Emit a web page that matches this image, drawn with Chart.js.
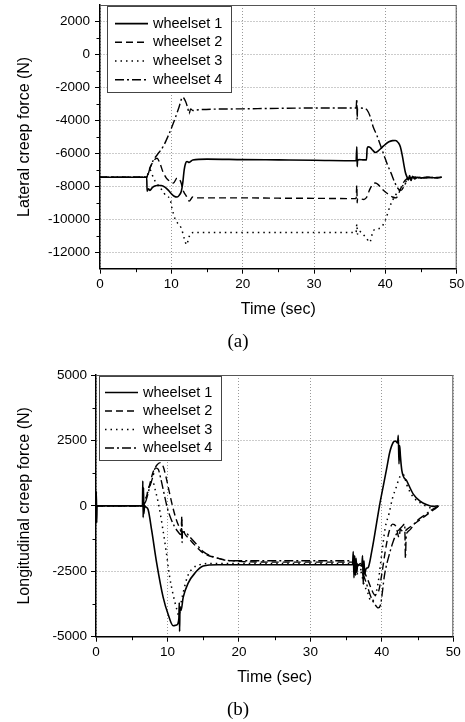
<!DOCTYPE html>
<html>
<head>
<meta charset="utf-8">
<script src="https://cdn.jsdelivr.net/npm/chart.js@4.4.0/dist/chart.umd.min.js"></script>
<style>
  body { margin: 0; background: #fff; }
  canvas { display: block; }
</style>
</head>
<body>
<canvas id="lateral" width="465" height="360"></canvas>
<canvas id="longitudinal" width="465" height="362"></canvas>
<script>
const seriesNames = ['wheelset 1', 'wheelset 2', 'wheelset 3', 'wheelset 4'];

const timeTicks = [0, 10, 20, 30, 40, 50];
const timeMinor = [5, 15, 25, 35, 45];
const latTicks = [2000, 0, -2000, -4000, -6000, -8000, -10000, -12000];
const latMinor = [1000, -1000, -3000, -5000, -7000, -9000, -11000];
const lonTicks = [5000, 2500, 0, -2500, -5000];
const lonMinor = [3750, 1250, -1250, -3750];

// (a) lateral creep force, N
const latT1 = [0, 6.55, 6.6, 6.8, 7.0, 7.3, 7.6, 8.0, 8.6, 9.1, 9.6, 10.0, 10.4, 10.8, 11.1, 11.4, 11.6, 11.8, 12.0, 12.2, 12.5, 13.0, 15, 20, 25, 30, 35.9, 36.0, 36.05, 36.1, 36.3, 37.0, 37.35, 37.45, 37.6, 37.9, 38.2, 38.6, 39.0, 39.5, 40.0, 40.5, 41.0, 41.4, 41.8, 42.1, 42.4, 42.6, 42.8, 43.0, 43.2, 43.4, 43.6, 43.8, 44.1, 44.5, 45, 46, 47, 47.9];
const latF1 = [-7450, -7450, -8300, -8150, -8250, -8100, -8000, -7950, -7950, -8050, -8250, -8450, -8600, -8650, -8550, -8300, -7800, -7000, -6600, -6500, -6550, -6400, -6350, -6380, -6400, -6420, -6450, -5600, -6800, -6450, -6380, -6400, -6400, -5700, -5600, -5650, -5800, -5950, -5850, -5650, -5450, -5300, -5230, -5220, -5350, -5600, -6200, -6700, -7150, -7400, -7600, -7350, -7650, -7400, -7550, -7450, -7500, -7450, -7480, -7450];
const latT2 = [0, 6.55, 6.8, 7.2, 7.6, 8.0, 8.4, 8.8, 9.3, 9.8, 10.3, 10.8, 11.3, 11.7, 12.1, 12.5, 13.0, 13.5, 15, 20, 25, 30, 35.9, 36.0, 36.05, 36.1, 36.3, 37.0, 37.4, 37.8, 38.2, 38.6, 39.0, 39.5, 40.0, 40.5, 41.0, 41.5, 42.0, 42.5, 43.0, 44, 45, 46, 47, 47.9];
const latF2 = [-7450, -7450, -7100, -6700, -6400, -6300, -6600, -7100, -7500, -7700, -7800, -7500, -7700, -8300, -8600, -8900, -8650, -8700, -8700, -8700, -8720, -8730, -8750, -7950, -9000, -8750, -8750, -8800, -8650, -8200, -7900, -7800, -7900, -8150, -8350, -8500, -8650, -8700, -8300, -7800, -7550, -7450, -7500, -7450, -7480, -7450];
const latT3 = [0, 6.55, 7.0, 7.5, 7.9, 8.3, 8.8, 9.3, 9.8, 10.1, 10.5, 10.9, 11.4, 11.8, 12.15, 12.4, 12.7, 13.2, 15, 20, 25, 30, 35.9, 36.0, 36.1, 36.3, 36.8, 37.3, 37.8, 38.3, 38.8, 39.5, 40.0, 40.7, 41.4, 42.3, 43.0, 44, 45, 46, 47, 47.9];
const latF3 = [-7450, -7450, -7000, -7500, -7800, -8000, -8300, -8600, -8750, -9350, -9950, -10250, -10550, -11150, -11550, -11200, -10850, -10800, -10800, -10800, -10800, -10800, -10800, -10300, -10900, -10700, -10900, -11100, -11400, -10700, -10600, -10450, -10050, -9150, -8550, -8050, -7650, -7450, -7500, -7450, -7480, -7450];
const latT4 = [0, 6.55, 7.0, 7.5, 8.0, 8.9, 9.6, 10.3, 11.0, 11.6, 12.0, 12.3, 12.5, 12.7, 13.0, 14, 20, 25, 30, 35.9, 36.0, 36.05, 36.1, 36.3, 37.0, 37.4, 37.9, 38.3, 38.8, 39.3, 39.8, 40.3, 40.8, 41.3, 41.8, 42.2, 42.6, 43.0, 43.5, 44.5, 46, 47.9];
const latF4 = [-7450, -7450, -6900, -6400, -6100, -5550, -4900, -4150, -3300, -2600, -2850, -3250, -3600, -3300, -3400, -3350, -3300, -3270, -3250, -3250, -2700, -3950, -3250, -3250, -3280, -3350, -3800, -4400, -4900, -5500, -6100, -6700, -7200, -7750, -8150, -8250, -8000, -7700, -7500, -7450, -7480, -7450];

// (b) longitudinal creep force, N
const lonT1 = [0, 0.05, 0.1, 0.15, 0.3, 6.5, 6.55, 6.6, 6.65, 6.7, 6.8, 7.0, 7.3, 7.8, 8.5, 9.4, 10.1, 10.8, 11.3, 11.6, 11.65, 11.7, 11.75, 11.9, 12.2, 12.9, 13.9, 15.0, 17, 20, 25, 30, 35.9, 36.0, 36.1, 36.2, 36.3, 36.4, 36.5, 36.6, 36.8, 37.2, 37.3, 37.4, 37.5, 37.6, 37.8, 38.1, 38.6, 39.0, 39.7, 40.2, 40.7, 41.1, 41.6, 41.9, 42.2, 42.3, 42.4, 42.5, 42.6, 42.8, 43.5, 44.4, 45.3, 46.3, 47.2, 47.9];
const lonF1 = [0, 550, -650, 0, 0, 0, 950, -450, 700, -300, 0, -50, -150, -950, -2200, -3500, -4150, -4580, -4550, -4300, -3700, -4800, -3900, -4000, -3500, -2950, -2550, -2300, -2250, -2250, -2250, -2250, -2250, -1750, -2750, -1900, -2650, -2000, -2550, -2250, -2250, -2300, -1900, -3000, -2100, -2600, -2400, -2350, -1720, -1100, 50, 750, 1460, 2040, 2430, 2480, 2400, 2700, 1600, 2300, 1900, 1350, 950, 450, 190, 40, -20, 0];
const lonT2 = [0, 6.6, 7.0, 7.5, 8.0, 8.5, 9.0, 9.4, 9.8, 10.2, 10.7, 11.2, 11.7, 11.95, 12.0, 12.05, 12.1, 12.5, 13.0, 14.0, 15.0, 17.0, 19.0, 25, 30, 36.0, 36.5, 37.0, 37.5, 38.0, 38.5, 39.0, 39.5, 40.0, 40.5, 41.0, 41.5, 42.0, 42.4, 42.6, 43.0, 43.5, 44.0, 45.0, 46.0, 47.0, 48.0];
const lonF2 = [0, 0, 300, 800, 1300, 1550, 1650, 1500, 1100, 600, 0, -500, -850, -1000, -400, -1300, -900, -1100, -1250, -1550, -1800, -2000, -2100, -2150, -2150, -2150, -2300, -2200, -2500, -2800, -3150, -3400, -3300, -2600, -1700, -1000, -700, -800, -1200, -900, -1000, -900, -800, -600, -400, -200, 0];
const lonT3 = [0, 6.6, 7.0, 7.5, 7.9, 8.3, 8.8, 9.3, 9.8, 10.3, 10.8, 11.3, 11.6, 11.9, 12.3, 12.8, 13.5, 14.5, 16, 20, 25, 30, 36.0, 36.5, 37.0, 37.5, 38.0, 38.5, 39.0, 39.5, 40.0, 40.5, 41.0, 41.5, 42.0, 42.5, 43.0, 43.5, 44.0, 44.5, 45.5, 46.5, 47.5, 48.0];
const lonF3 = [0, 0, 300, 800, 950, 600, 0, -800, -1700, -2700, -3400, -3950, -4200, -3700, -3200, -2700, -2400, -2250, -2200, -2200, -2200, -2200, -2200, -2600, -2500, -3000, -3300, -3650, -3500, -2900, -1800, -800, -300, 300, 700, 1100, 1200, 800, 500, 300, 100, -50, -100, 0];
const lonT4 = [0, 6.6, 7.0, 7.5, 8.0, 8.3, 8.7, 9.1, 9.5, 10.0, 10.5, 11.0, 11.5, 11.9, 12.0, 12.05, 12.1, 12.5, 13.0, 14.0, 15.0, 17.0, 19.0, 25, 30, 36.0, 36.5, 37.0, 37.5, 38.0, 38.5, 39.0, 39.5, 39.8, 40.4, 41.0, 41.6, 42.2, 42.8, 43.2, 43.25, 43.3, 43.4, 43.6, 44.0, 44.5, 45.0, 46.0, 47.0, 48.0];
const lonF4 = [0, 0, 200, 700, 1150, 1450, 1400, 1000, 500, -100, -500, -800, -1000, -1100, -500, -1400, -1000, -1000, -1150, -1450, -1750, -2000, -2100, -2100, -2100, -2100, -2200, -2400, -2700, -3100, -3500, -3750, -3900, -3800, -2600, -1900, -1350, -1000, -800, -700, -1300, -2000, -1200, -1000, -900, -700, -550, -350, -150, 0];

const sans = "'Liberation Sans', Arial, sans-serif";
const lineDash = [[], [7, 4], [1.5, 4], [9, 3, 2, 3]];
const lineWidth = [1.6, 1.4, 1.5, 1.4];

function pts(t, f) {
  return t.map((x, i) => ({ x: x, y: f[i] }));
}

// frame on top/right, minor ticks, boxed legend inside the plot, caption
const paperFrame = {
  id: 'paperFrame',
  afterDraw(chart, args, opts) {
    const { ctx, chartArea: a, scales } = chart;
    ctx.save();
    ctx.strokeStyle = '#555';
    ctx.lineWidth = 1;
    ctx.beginPath();
    ctx.moveTo(a.left, a.top + 0.5);
    ctx.lineTo(a.right - 0.5, a.top + 0.5);
    ctx.lineTo(a.right - 0.5, a.bottom);
    ctx.stroke();

    ctx.strokeStyle = '#000';
    ctx.beginPath();
    opts.xMinor.forEach(v => {
      const x = Math.round(scales.x.getPixelForValue(v)) + 0.5;
      ctx.moveTo(x, a.bottom);
      ctx.lineTo(x, a.bottom + 3.5);
    });
    opts.yMinor.forEach(v => {
      const y = Math.round(scales.y.getPixelForValue(v)) + 0.5;
      ctx.moveTo(a.left, y);
      ctx.lineTo(a.left - 3.5, y);
    });
    ctx.stroke();

    const L = opts.legend;
    const bx = Math.round(a.left + L.x), by = Math.round(a.top + L.y);
    ctx.fillStyle = '#fff';
    ctx.fillRect(bx, by, L.w, L.h);
    ctx.strokeStyle = '#444';
    ctx.strokeRect(bx + 0.5, by + 0.5, L.w, L.h);
    ctx.font = '14.5px ' + sans;
    ctx.textBaseline = 'middle';
    ctx.fillStyle = '#000';
    chart.data.datasets.forEach((ds, i) => {
      const y = by + L.first + i * L.row;
      ctx.strokeStyle = '#000';
      ctx.setLineDash(ds.borderDash || []);
      ctx.lineWidth = ds.borderWidth;
      ctx.beginPath();
      ctx.moveTo(bx + L.sx, y);
      ctx.lineTo(bx + L.sx + L.sw, y);
      ctx.stroke();
      ctx.setLineDash([]);
      ctx.fillText(ds.label, bx + L.tx, y);
    });

    ctx.font = "19px 'Liberation Serif', 'Times New Roman', serif";
    ctx.textAlign = 'center';
    ctx.fillText(opts.caption, opts.captionX, opts.captionY);
    ctx.restore();
  }
};

function makeChart(id, series, cfg) {
  const datasets = series.map((s, i) => ({
    label: seriesNames[i],
    data: pts(s[0], s[1]),
    borderColor: '#000',
    borderWidth: lineWidth[i],
    borderDash: lineDash[i],
    pointRadius: 0,
    fill: false,
    cubicInterpolationMode: 'monotone'
  }));

  return new Chart(document.getElementById(id), {
    type: 'line',
    data: { datasets: datasets },
    plugins: [paperFrame],
    options: {
      responsive: false,
      animation: false,
      layout: { padding: cfg.padding },
      plugins: {
        legend: { display: false },
        tooltip: { enabled: false },
        paperFrame: cfg.frame
      },
      scales: {
        x: {
          type: 'linear',
          min: 0,
          max: 50,
          afterBuildTicks: s => { s.ticks = timeTicks.map(v => ({ value: v })); },
          afterFit: s => { s.height = 50.1; s.paddingLeft = 0; s.paddingRight = 0; },
          ticks: { font: { family: sans, size: 13.5 }, color: '#000', padding: 2, maxRotation: 0, autoSkip: false, callback: v => String(v) },
          grid: { color: '#999', lineWidth: 1, tickLength: 5, tickColor: '#000', tickWidth: 1 },
          border: { color: '#000', width: 1.5, dash: [1, 2] },
          title: { display: true, text: 'Time (sec)', font: { family: sans, size: 16 }, color: '#000', padding: 0 }
        },
        y: {
          type: 'linear',
          min: cfg.yMin,
          max: cfg.yMax,
          afterBuildTicks: s => { s.ticks = cfg.yTicks.map(v => ({ value: v })); },
          afterFit: s => { s.width = cfg.yWidth; s.paddingTop = 0; s.paddingBottom = 0; },
          ticks: { font: { family: sans, size: 13.5 }, color: '#000', padding: cfg.yPad, autoSkip: false, callback: v => String(v) },
          grid: { color: '#999', lineWidth: 1, tickLength: 5, tickColor: '#000', tickWidth: 1 },
          border: { color: '#000', width: 1.5, dash: [1, 2] },
          title: { display: true, text: cfg.yTitle, font: { family: sans, size: 16 }, color: '#000', padding: 0 }
        }
      }
    }
  });
}

makeChart('lateral',
  [[latT1, latF1], [latT2, latF2], [latT3, latF3], [latT4, latF4]],
  {
    padding: { left: 15.4, right: 8.3, top: 5, bottom: 41.2 },
    yMin: -13000, yMax: 3000, yTicks: latTicks, yWidth: 84.6, yPad: 5,
    yTitle: 'Lateral creep force (N)',
    frame: {
      xMinor: timeMinor, yMinor: latMinor,
      legend: { x: 7.3, y: 0.7, w: 124, h: 86, first: 17.6, row: 18.7, sx: 8, sw: 33, tx: 46 },
      caption: '(a)', captionX: 238, captionY: 341.7
    }
  });

makeChart('longitudinal',
  [[lonT1, lonF1], [lonT2, lonF2], [lonT3, lonF3], [lonT4, lonF4]],
  {
    padding: { left: 15.4, right: 11.7, top: 15, bottom: 35.2 },
    yMin: -5000, yMax: 5000, yTicks: lonTicks, yWidth: 80.6, yPad: 4,
    yTitle: 'Longitudinal creep force (N)',
    frame: {
      xMinor: timeMinor, yMinor: lonMinor,
      legend: { x: 3.3, y: 0.7, w: 122, h: 84, first: 16.5, row: 18.5, sx: 6, sw: 33, tx: 44 },
      caption: '(b)', captionX: 238, captionY: 349.7
    }
  });
</script>
</body>
</html>
